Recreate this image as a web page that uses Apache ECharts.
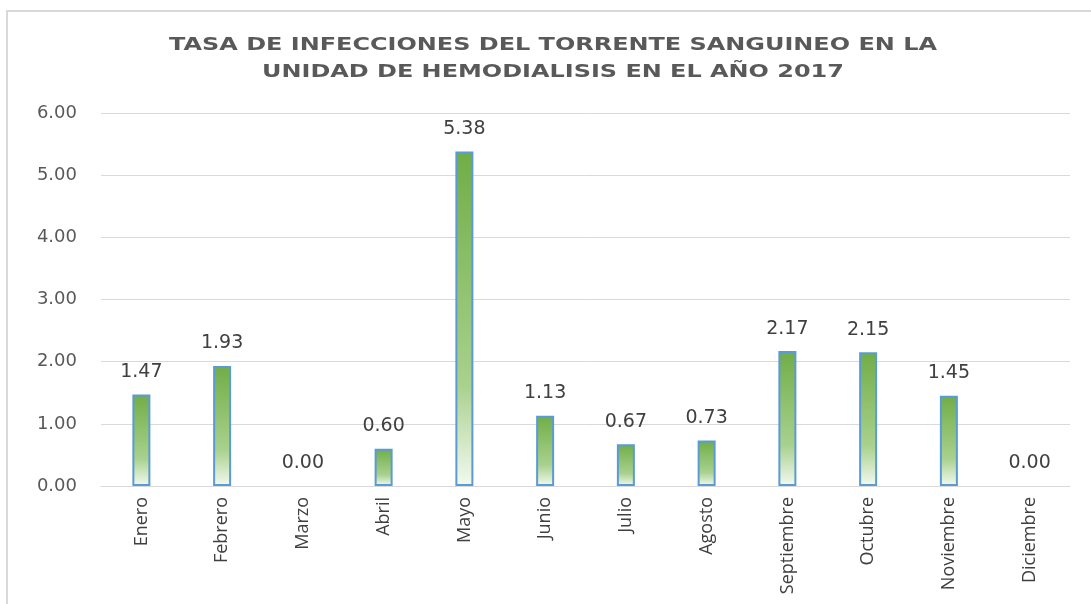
<!DOCTYPE html>
<html>
<head>
<meta charset="utf-8">
<script src="https://cdn.jsdelivr.net/npm/echarts@6/dist/echarts.min.js"></script>
<style>
  html, body { margin: 0; padding: 0; background: #fff; }
  #main { width: 1091px; height: 604px; }
</style>
</head>
<body>
<div id="main"></div>
<script>
var titulo = ['TASA DE INFECCIONES DEL TORRENTE SANGUINEO EN LA', 'UNIDAD DE HEMODIALISIS EN EL AÑO 2017'];
var meses = ['Enero', 'Febrero', 'Marzo', 'Abril', 'Mayo', 'Junio', 'Julio', 'Agosto', 'Septiembre', 'Octubre', 'Noviembre', 'Diciembre'];
var tasa = [1.47, 1.93, 0.00, 0.60, 5.38, 1.13, 0.67, 0.73, 2.17, 2.15, 1.45, 0.00];

var myChart = echarts.init(document.getElementById('main'));

// el título de Excel sale ensanchado, se imita con scaleX
function lineaTitulo(texto, y) {
    return {
        type: 'text',
        x: 553,
        y: y,
        scaleX: 1.33,
        silent: true,
        style: {
            text: texto,
            fill: '#595959',
            font: 'bold 18px "DejaVu Sans"',
            textAlign: 'center',
            textVerticalAlign: 'middle'
        }
    };
}

var option = {
    animation: false,
    graphic: [{
        type: 'rect',
        shape: { x: 7, y: 11, width: 1100, height: 620 },
        style: { fill: 'none', stroke: '#d9d9d9', lineWidth: 2 },
        silent: true
    },
        lineaTitulo(titulo[0], 45),
        lineaTitulo(titulo[1], 72)
    ],
    grid: {
        left: 101,
        right: 21,
        top: 113,
        bottom: 118
    },
    xAxis: {
        type: 'category',
        data: meses,
        axisLine: { show: true, lineStyle: { color: '#d9d9d9' } },
        axisTick: { show: false },
        axisLabel: {
            rotate: 90,
            margin: 11,
            color: '#404040',
            fontFamily: 'Open Sans',
            fontSize: 18
        }
    },
    yAxis: {
        type: 'value',
        min: 0,
        max: 6,
        interval: 1,
        axisLine: { show: false },
        axisTick: { show: false },
        splitLine: { lineStyle: { color: '#d9d9d9', width: 1 } },
        axisLabel: {
            margin: 24,
            color: '#595959',
            fontFamily: 'DejaVu Sans',
            fontSize: 18,
            formatter: function (v) { return v.toFixed(2); }
        }
    },
    series: [{
        type: 'bar',
        data: tasa.map(function (v) {
            return v === 0 ? { value: v, itemStyle: { borderWidth: 0 } } : v;
        }),
        barWidth: 18,
        itemStyle: {
            color: new echarts.graphic.LinearGradient(0, 0, 0, 1, [
                { offset: 0, color: '#70ad47' },
                { offset: 0.7, color: '#a9d18e' },
                { offset: 1, color: '#f4f9f0' }
            ]),
            borderColor: '#5b9bd5',
            borderWidth: 2
        },
        label: {
            show: true,
            position: 'top',
            distance: 13,
            color: '#404040',
            fontFamily: 'DejaVu Sans',
            fontSize: 19,
            formatter: function (p) { return p.value.toFixed(2); }
        }
    }]
};

myChart.setOption(option);
window.onresize = function () {
    myChart.resize();
};
</script>
</body>
</html>
